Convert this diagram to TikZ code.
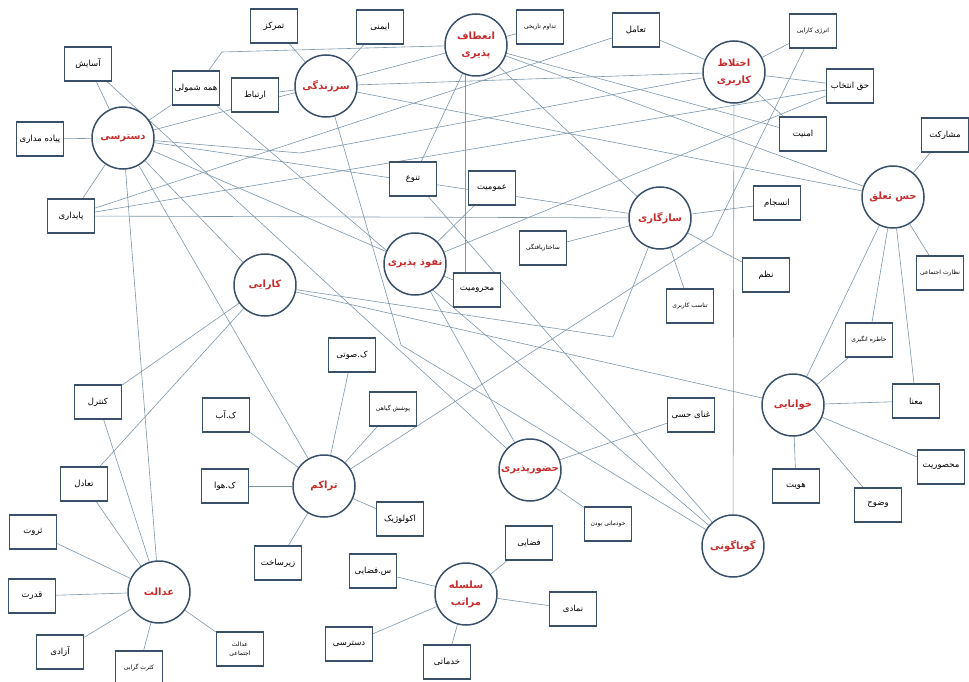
\documentclass[tikz,border=0pt]{standalone}
\usepackage{fontspec}
\newfontfamily\fafont[Script=Arabic]{DejaVu Sans}
\TeXXeTstate=1
\usetikzlibrary{backgrounds}
\newcommand{\fatx}[1]{\beginR #1\endR}
\definecolor{BoxClr}{RGB}{58,80,105}
\definecolor{LinkClr}{RGB}{125,150,170}
\definecolor{NameClr}{RGB}{200,45,45}

\begin{document}
\begin{tikzpicture}[x=1pt,y=-1pt,
  concept/.style={circle,draw=BoxClr,line width=1.5pt,fill=white,minimum size=62pt,inner sep=0pt,align=center,text=NameClr,font=\fafont\bfseries\fontsize{10}{17}\selectfont},
  attr/.style={draw=BoxClr,line width=1.5pt,fill=white,minimum width=47pt,minimum height=34pt,inner sep=1pt,align=center,font=\fafont\fontsize{8.5}{12}\selectfont},
  tiny/.style={font=\fafont\fontsize{6}{9}\selectfont},
  link/.style={draw=LinkClr,line width=0.6pt}]
\useasboundingbox (0,0) rectangle (969,682);

\node[concept] (dast) at (123,138) {\fatx{دسترسی}};
\node[concept] (sarz) at (326,86) {\fatx{سرزندگی}};
\node[concept] (enet) at (476,45) {\fatx{انعطاف}\\\fatx{پذیری}};
\node[concept] (ekht) at (734,72) {\fatx{اختلاط}\\\fatx{کاربری}};
\node[concept] (hest) at (893,197) {\fatx{حس تعلق}};
\node[concept] (saz) at (660,218) {\fatx{سازگاری}};
\node[concept] (nofuz) at (415,264) {\fatx{نفوذ پذیری}};
\node[concept] (kara) at (265,285) {\fatx{کارایی}};
\node[concept] (khan) at (793,405) {\fatx{خوانایی}};
\node[concept] (tarak) at (324,486) {\fatx{تراکم}};
\node[concept] (hozur) at (530,470) {\fatx{حضورپذیری}};
\node[concept] (gunag) at (733,546) {\fatx{گوناگونی}};
\node[concept] (edalat) at (159,592) {\fatx{عدالت}};
\node[concept] (selsel) at (466,594) {\fatx{سلسله}\\\fatx{مراتب}};

\node[attr] (asayesh) at (88,64) {\fatx{آسایش}};
\node[attr] (hame) at (196,88) {\fatx{همه شمولی}};
\node[attr] (ertebat) at (255,95) {\fatx{ارتباط}};
\node[attr] (tamarkoz) at (274,26) {\fatx{تمرکز}};
\node[attr] (imeni) at (380,27) {\fatx{ایمنی}};
\node[attr,tiny] (tadavom) at (540,27) {\fatx{تداوم تاریخی}};
\node[attr] (taamol) at (636,30) {\fatx{تعامل}};
\node[attr,tiny] (energy) at (813,31) {\fatx{انرژی کارایی}};
\node[attr] (hagh) at (850,86) {\fatx{حق انتخاب}};
\node[attr] (amniat) at (803,134) {\fatx{امنیت}};
\node[attr] (mosharekat) at (945,135) {\fatx{مشارکت}};
\node[attr] (piade) at (40,139) {\fatx{پیاده مداری}};
\node[attr] (paydari) at (71,216) {\fatx{پایداری}};
\node[attr] (tanavo) at (413,179) {\fatx{تنوع}};
\node[attr] (omumiat) at (492,188) {\fatx{عمومیت}};
\node[attr] (ensejam) at (777,203) {\fatx{انسجام}};
\node[attr,tiny] (sakhtar) at (543,248) {\fatx{ساختاریافتگی}};
\node[attr] (mahrumiat) at (477,290) {\fatx{محرومیت}};
\node[attr] (nazm) at (766,275) {\fatx{نظم}};
\node[attr,tiny] (nezarat) at (940,273) {\fatx{نظارت اجتماعی}};
\node[attr,tiny] (tanasob) at (690,306) {\fatx{تناسب کاربری}};
\node[attr,tiny] (khatere) at (869,340) {\fatx{خاطره انگیزی}};
\node[attr] (ksuti) at (352,355) {\fatx{ک.صوتی}};
\node[attr,tiny] (pushesh) at (393,409) {\fatx{پوشش گیاهی}};
\node[attr] (control) at (98,402) {\fatx{کنترل}};
\node[attr] (kab) at (226,415) {\fatx{ک.آب}};
\node[attr] (ghana) at (691,415) {\fatx{غنای حسی}};
\node[attr] (mana) at (916,401) {\fatx{معنا}};
\node[attr] (taadol) at (84,484) {\fatx{تعادل}};
\node[attr] (khava) at (225,486) {\fatx{ک.هوا}};
\node[attr] (mahsur) at (941,467) {\fatx{محصوریت}};
\node[attr] (hoviat) at (796,486) {\fatx{هویت}};
\node[attr] (vozuh) at (878,505) {\fatx{وضوح}};
\node[attr] (ekolog) at (400,519) {\fatx{اکولوژیک}};
\node[attr,tiny] (khodemani) at (608,524) {\fatx{خودمانی بودن}};
\node[attr] (servat) at (33,532) {\fatx{ثروت}};
\node[attr] (zirsakht) at (278,563) {\fatx{زیرساخت}};
\node[attr] (fazaei) at (529,543) {\fatx{فضایی}};
\node[attr] (sfazaei) at (373,571) {\fatx{س.فضایی}};
\node[attr] (ghodrat) at (32,596) {\fatx{قدرت}};
\node[attr] (namadi) at (573,609) {\fatx{نمادی}};
\node[attr] (dastbox) at (349,644) {\fatx{دسترسی}};
\node[attr] (khadamati) at (447,662) {\fatx{خدماتی}};
\node[attr] (azadi) at (60,652) {\fatx{آزادی}};
\node[attr,tiny] (kesrat) at (139,668) {\fatx{کثرت گرایی}};
\node[attr,tiny] (edalatej) at (240,649) {\fatx{عدالت}\\\fatx{اجتماعی}};

\coordinate (hamebend) at (222,52);
\coordinate (dastbend) at (300,153);
\coordinate (sarzbend) at (401,345);
\coordinate (karabend) at (613,337);
\coordinate (energybend) at (712,236);

\begin{scope}[on background layer]
\foreach \a/\b in {dast/asayesh,dast/hame,dast/piade,dast/paydari,
  sarz/tamarkoz,sarz/imeni,sarz/ertebat,enet/tadavom,enet/tanavo,
  ekht/taamol,ekht/energy,ekht/hagh,ekht/amniat,
  hest/mosharekat,hest/nezarat,hest/khatere,hest/mana,hest/khan,
  saz/ensejam,saz/sakhtar,saz/tanasob,saz/nazm,
  nofuz/omumiat,nofuz/mahrumiat,kara/control,kara/taadol,
  khan/mana,khan/hoviat,khan/vozuh,khan/mahsur,khan/khatere,
  tarak/ksuti,tarak/pushesh,tarak/kab,tarak/khava,tarak/ekolog,tarak/zirsakht,
  hozur/ghana,hozur/khodemani,
  edalat/taadol,edalat/servat,edalat/ghodrat,edalat/azadi,edalat/kesrat,edalat/edalatej,
  selsel/fazaei,selsel/sfazaei,selsel/namadi,selsel/dastbox,selsel/khadamati,
  dast/edalat,control/edalat,dast/tarak,dast/kara,dast/nofuz,dast/enet,dast/saz,
  hame/gunag,asayesh/hozur,paydari/saz,paydari/hagh,taamol/paydari,
  sarz/ekht,sarz/hest,enet/hest,enet/amniat,enet/saz,
  hagh/nofuz,nofuz/hozur,tanavo/gunag,ekht/gunag,kara/khan}
  \draw[link] (\a) -- (\b);
\draw[link] (enet.250) -- (enet.250 |- mahrumiat.north);
\draw[link] (hame) -- (hamebend) -- (enet);
\draw[link] (dast) -- (dastbend) -- (ekht);
\draw[link] (sarz) -- (sarzbend) -- (gunag);
\draw[link] (kara) -- (karabend) -- (saz);
\draw[link] (energy) -- (energybend) -- (tarak);
\end{scope}
\end{tikzpicture}
\end{document}
